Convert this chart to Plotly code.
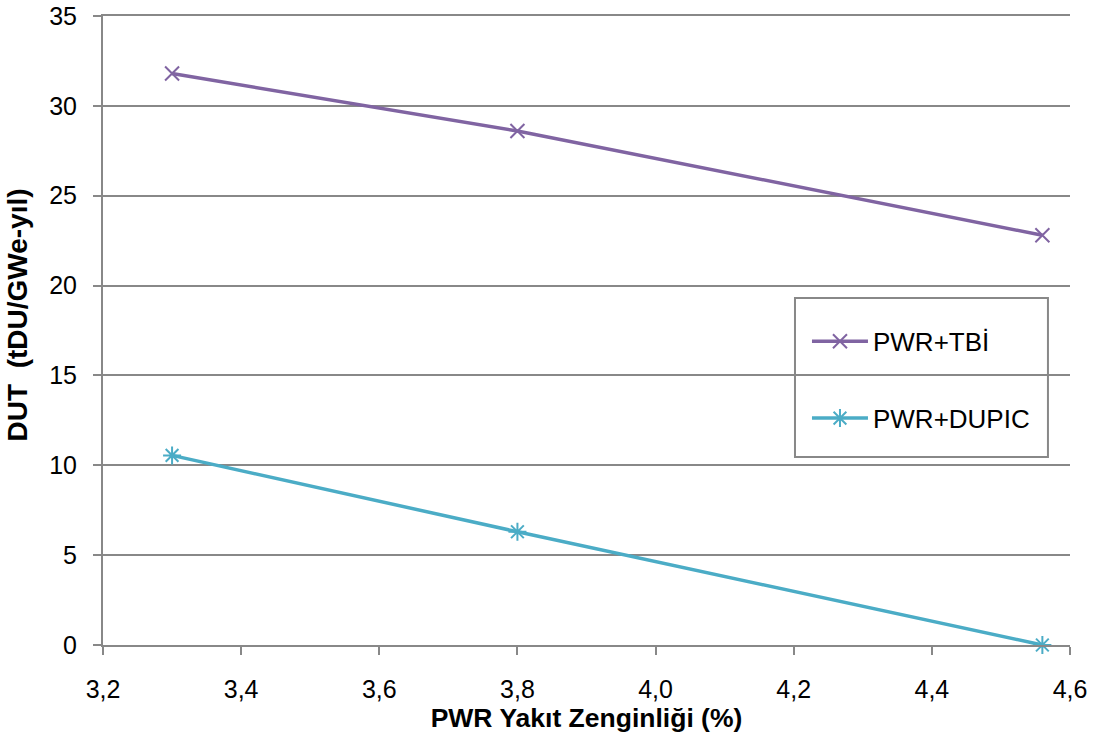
import plotly.graph_objects as go

enrichment = [3.3, 3.8, 4.56]
tbi_values = [31.8, 28.6, 22.8]
dupic_values = [10.55, 6.3, 0.0]
series_names = ["PWR+TBİ", "PWR+DUPIC"]
x_ticks = [3.2, 3.4, 3.6, 3.8, 4.0, 4.2, 4.4, 4.6]
x_tick_labels = ["3,2", "3,4", "3,6", "3,8", "4,0", "4,2", "4,4", "4,6"]
y_ticks = [0, 5, 10, 15, 20, 25, 30, 35]

purple = "#8064A2"
cyan = "#4BACC6"
grid = "#888888"
font = "Liberation Sans, Arial, sans-serif"

fig = go.Figure()
fig.add_trace(go.Scatter(
    x=enrichment, y=tbi_values, name=series_names[0], mode="lines+markers",
    line=dict(color=purple, width=3.5),
    marker=dict(symbol="x-thin-open", size=14, line=dict(color=purple, width=2)),
    legendgroup="a", cliponaxis=False))
fig.add_trace(go.Scatter(
    x=enrichment, y=dupic_values, name=series_names[1], mode="lines+markers",
    line=dict(color=cyan, width=3.5),
    marker=dict(symbol="asterisk-open", size=15, line=dict(color=cyan, width=2)),
    legendgroup="b", cliponaxis=False))

fig.update_layout(
    width=1098, height=738,
    margin=dict(l=103, r=28, t=16, b=93, autoexpand=False),
    paper_bgcolor="white", plot_bgcolor="white",
    font=dict(family=font, size=25, color="black"),
    showlegend=True,
    legend=dict(
        x=0.728, y=0.52, xanchor="left", yanchor="top",
        bgcolor="rgba(0,0,0,0)", borderwidth=0,
        font=dict(family=font, size=26, color="black"),
        traceorder="grouped", tracegroupgap=40,
        itemwidth=56,
    ),
    xaxis=dict(
        range=[3.2, 4.6], tickvals=x_ticks, ticktext=x_tick_labels,
        showgrid=False, zeroline=False, automargin=False,
        showline=True, linecolor=grid, linewidth=2, mirror=True,
        ticks="outside", ticklen=8, tickwidth=2, tickcolor=grid,
        ticklabelstandoff=13, ticklabeloverflow="allow",
        tickfont=dict(family=font, size=25, color="black"),
        title=dict(text="<b>PWR Yakıt Zenginliği (%)</b>", standoff=0,
                   font=dict(family=font, size=26.5, color="black")),
    ),
    yaxis=dict(
        range=[0, 35], tickvals=y_ticks,
        showgrid=True, gridcolor=grid, gridwidth=2, zeroline=False, automargin=False,
        showline=True, linecolor=grid, linewidth=2,
        ticks="outside", ticklen=8, tickwidth=2, tickcolor=grid,
        ticklabelstandoff=11, ticklabeloverflow="allow",
        tickfont=dict(family=font, size=25, color="black"),
        title=dict(text="&nbsp;&nbsp;&nbsp;&nbsp;<b>DUT  (tDU/GWe-yıl)</b>", standoff=13,
                   font=dict(family=font, size=28, color="black")),
    ),
    shapes=[dict(type="rect", xref="paper", yref="paper",
                 x0=0.7156, x1=0.9772, y0=0.2989, y1=0.5517,
                 line=dict(color=grid, width=2), fillcolor="white", layer="below")],
)

fig.write_html("out.html", config={"displayModeBar": False},
               post_script="document.body.style.margin='0';")
